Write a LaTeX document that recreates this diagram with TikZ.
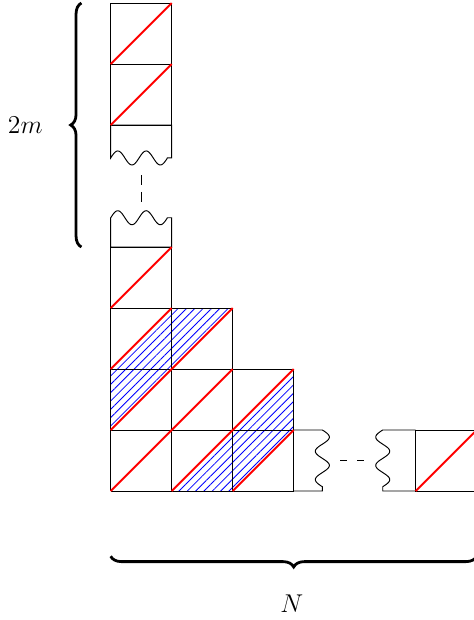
\documentclass[tikz,border=0pt]{standalone}
\usetikzlibrary{patterns.meta,decorations.pathreplacing}
\tikzset{
  cellline/.style={black, line width=0.45pt},
  diag/.style={red, line width=0.9pt},
  hatch/.style={pattern={Lines[angle=45,distance=2.75pt,line width=0.4pt]}, pattern color=blue},
  bracestyle/.style={decorate, decoration={brace, amplitude=5pt}, line width=1.3pt},
  lbl/.style={font=\large}
}
\begin{document}
\begin{tikzpicture}
\useasboundingbox (-1.815,-2.115) rectangle (5.955,8.05);
% hatched regions
\fill[hatch] (0,1) -- (0,2) -- (1,3) -- (2,3) -- cycle;
\fill[hatch] (1,0) -- (3,2) -- (3,1) -- (2,0) -- cycle;
% grid cells
\draw[cellline] (0,0) grid (1,4);
\draw[cellline] (1,0) grid (2,3);
\draw[cellline] (2,0) grid (3,2);
\draw[cellline] (5,0) rectangle (6,1);
\draw[cellline] (0,6) grid (1,8);
% broken boxes with wavy edges
\draw[cellline] (1,5.46) -- (0.93,5.46) -- plot[domain=0.93:0, samples=60] (\x,{5.46+0.115*sin(360*\x/0.465)}) -- (0,6) -- (1,6) -- cycle;
\draw[cellline] (1,4.48) -- (0.93,4.48) -- plot[domain=0.93:0, samples=60] (\x,{4.48+0.115*sin(360*\x/0.465)}) -- (0,4) -- (1,4) -- cycle;
\draw[cellline] (3,1) -- (3.47,1) -- plot[domain=0:0.93, samples=60] ({3.47+0.115*sin(360*\x/0.465)},{1-\x}) -- (3.47,0) -- (3,0);
\draw[cellline] (5,1) -- (4.46,1) -- plot[domain=0:0.93, samples=60] ({4.46-0.115*sin(360*\x/0.465)},{1-\x}) -- (4.46,0) -- (5,0);
% dashes
\coordinate (vd1) at (0.5,5.18);
\coordinate (vd2) at (0.5,4.74);
\coordinate (hd1) at (3.76,0.5);
\coordinate (hd2) at (4.16,0.5);
\draw[cellline, dash pattern=on 4.7pt off 3.1pt] (vd1) -- (vd2);
\draw[cellline, dash pattern=on 3.3pt off 4.7pt] (hd1) -- (hd2);
% red diagonals
\foreach \a/\b in {0/0,0/1,0/2,0/3,1/0,1/1,1/2,2/0,2/1,5/0,0/6,0/7}
  \draw[diag] (\a,\b) -- ++(1,1);
% braces
\coordinate (lb1) at (-0.48,4);
\coordinate (lb2) at (-0.48,8);
\coordinate (bb1) at (6,-1.07);
\coordinate (bb2) at (0,-1.07);
\draw[bracestyle] (lb1) -- (lb2);
\draw[bracestyle] (bb1) -- (bb2);
\node[lbl] (m) at (-1.40,6.0) {$2m$};
\node[lbl] (n) at (2.97,-1.85) {$N$};
\end{tikzpicture}
\end{document}
